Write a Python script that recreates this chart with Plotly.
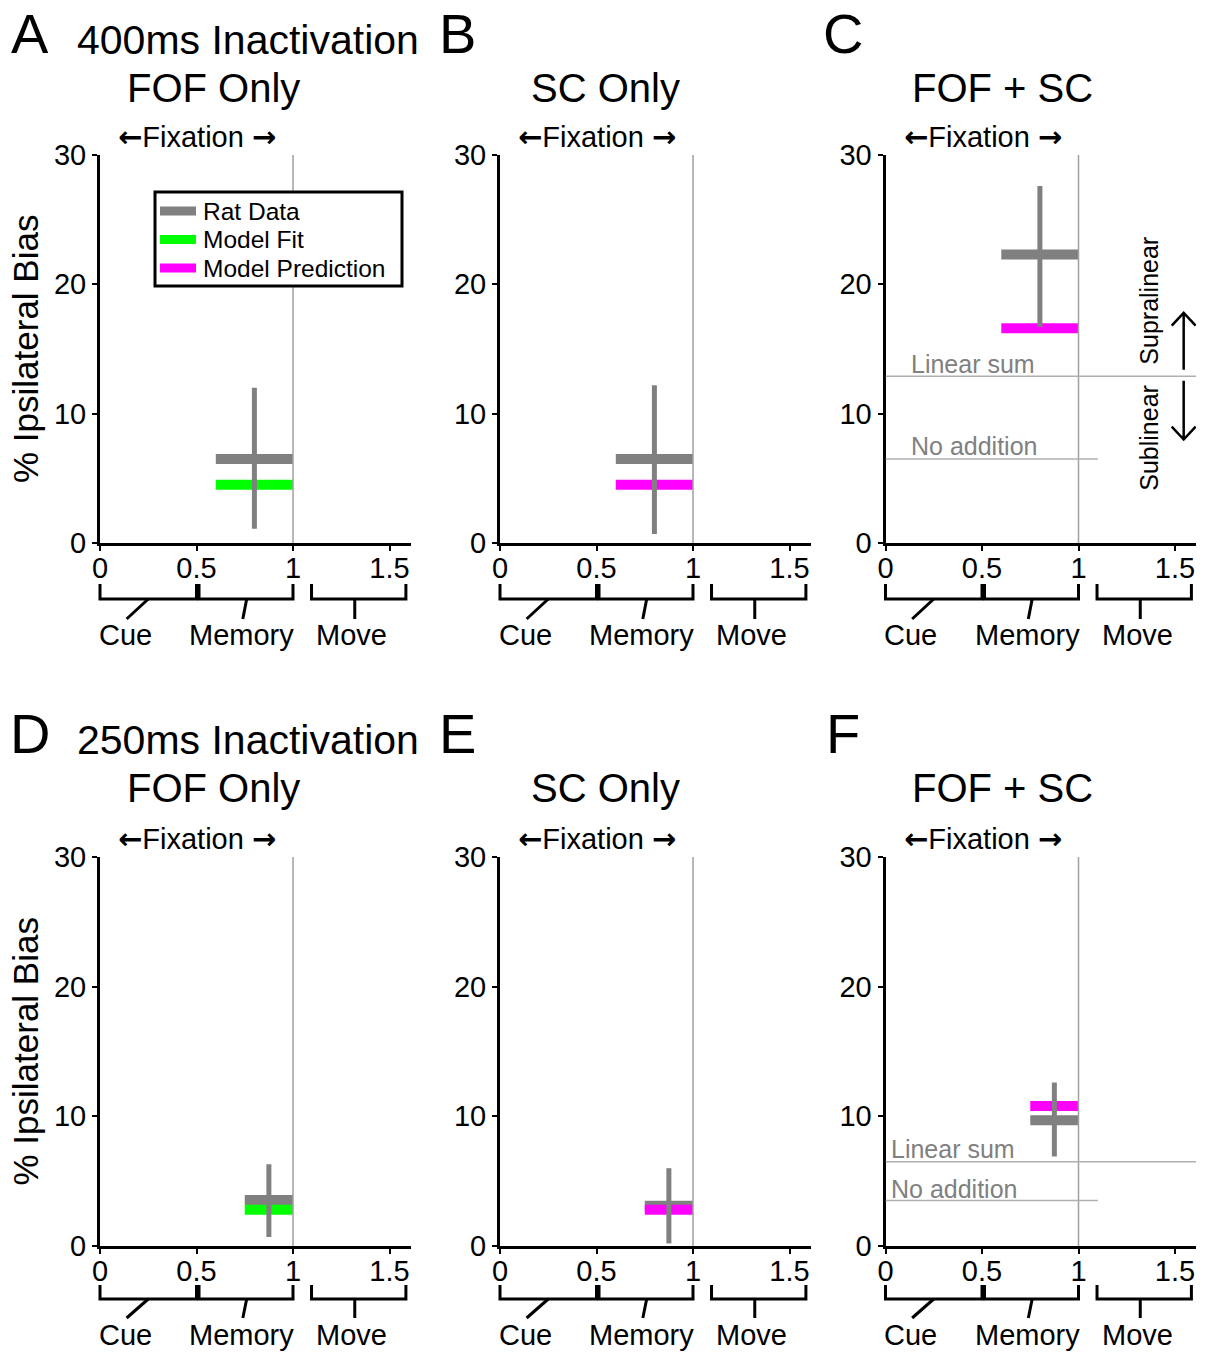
import plotly.graph_objects as go

# ---------------- data ----------------
panel_letters = ["A", "B", "C", "D", "E", "F"]
panel_titles = ["FOF Only", "SC Only", "FOF + SC", "FOF Only", "SC Only", "FOF + SC"]
row_titles = ["400ms Inactivation", "250ms Inactivation"]

rat_mean = [6.5, 6.5, 22.3, 3.55, 3.1, 9.7]
rat_lo = [1.1, 0.7, 16.7, 0.7, 0.2, 6.9]
rat_hi = [12.0, 12.2, 27.6, 6.3, 6.0, 12.6]
model_value = [4.5, 4.5, 16.6, 2.8, 2.8, 10.8]
model_kind = ["fit", "prediction", "prediction", "fit", "prediction", "prediction"]
window_start = [0.6, 0.6, 0.6, 0.75, 0.75, 0.75]
window_end = [1.0, 1.0, 1.0, 1.0, 1.0, 1.0]
window_mid = [0.8, 0.8, 0.8, 0.875, 0.875, 0.875]

# reference lines for combined panels (panel index -> value)
linear_sum = {2: 12.9, 5: 6.5}
no_addition = {2: 6.5, 5: 3.5}

x_tickvals = [0, 0.5, 1, 1.5]
x_ticktext = ["0", "0.5", "1", "1.5"]
y_tickvals = [0, 10, 20, 30]
y_ticktext = ["0", "10", "20", "30"]

epochs = ["Cue", "Memory", "Move"]
epoch_start = [0.0, 0.513, 1.096]
epoch_end = [0.5, 1.0, 1.585]
epoch_tick_top = [0.25, 0.76, 1.32]
epoch_tick_bottom = [0.138, 0.74, 1.32]
epoch_label_x = [0.13, 0.735, 1.305]

legend_names = ["Rat Data", "Model Fit", "Model Prediction"]

# ---------------- style / geometry ----------------
W, H = 1213, 1353
FONT = "Liberation Sans, Arial, sans-serif"
GRAY = "#808080"
COLORS = {"fit": "#00ff00", "prediction": "#ff00ff"}
legend_colors = [GRAY, COLORS["fit"], COLORS["prediction"]]
X_MAX = 1.61
PX_PER_X = 193.0
col_left_px = [100, 500, 885.5]
row_bottom_px = [543, 1246]
row_top_px = [155, 857]


def py(p):
    return 1 - p / H


def px(p):
    return p / W


fig = go.Figure()
shapes = []
annotations = []
ARROW = "<span style='font-family:DejaVu Sans;font-weight:bold'>%s</span>"

for i in range(6):
    r, c = divmod(i, 3)
    n = i + 1
    xs = "" if n == 1 else str(n)
    xa, ya = "x" + xs, "y" + xs
    left = col_left_px[c]
    fig.update_layout(**{
        "xaxis" + xs: dict(
            domain=[px(left), px(left + X_MAX * PX_PER_X)], range=[0, X_MAX],
            anchor=ya, showline=True, linecolor="black", linewidth=3,
            ticks="outside", ticklen=5, tickwidth=2, tickcolor="black",
            ticklabelstandoff=-8,
            tickvals=x_tickvals, ticktext=x_ticktext, showgrid=False, zeroline=False,
            tickfont=dict(family=FONT, size=29, color="black"), fixedrange=True),
        "yaxis" + xs: dict(
            domain=[py(row_bottom_px[r]), py(row_top_px[r])], range=[0, 30],
            anchor=xa, showline=True, linecolor="black", linewidth=3,
            ticks="outside", ticklen=5, tickwidth=2, tickcolor="black",
            tickvals=y_tickvals, ticktext=y_ticktext, showgrid=False, zeroline=False,
            tickfont=dict(family=FONT, size=29, color="black"), fixedrange=True),
    })

    kind = model_kind[i]
    # rat data bar
    fig.add_trace(go.Scatter(
        x=[window_start[i], window_end[i]], y=[rat_mean[i], rat_mean[i]],
        mode="lines", line=dict(color=GRAY, width=10), xaxis=xa, yaxis=ya,
        name="Rat Data", showlegend=False, hoverinfo="skip"))
    # model bar
    fig.add_trace(go.Scatter(
        x=[window_start[i], window_end[i]], y=[model_value[i], model_value[i]],
        mode="lines", line=dict(color=COLORS[kind], width=10), xaxis=xa, yaxis=ya,
        name="Model Fit" if kind == "fit" else "Model Prediction",
        showlegend=False, hoverinfo="skip"))
    # error bar
    fig.add_trace(go.Scatter(
        x=[window_mid[i], window_mid[i]], y=[rat_lo[i], rat_hi[i]],
        mode="lines", line=dict(color=GRAY, width=5), xaxis=xa, yaxis=ya,
        showlegend=False, hoverinfo="skip"))

    # vertical line at end of memory period
    shapes.append(dict(type="line", xref=xa, yref=ya, x0=window_end[i], x1=window_end[i],
                       y0=0, y1=30, line=dict(color="#a0a0a0", width=1.5), layer="above"))

    # reference lines
    if i in linear_sum:
        shapes.append(dict(type="line", xref=xa, yref=ya, x0=0, x1=X_MAX,
                           y0=linear_sum[i], y1=linear_sum[i],
                           line=dict(color="#b0b0b0", width=1.5)))
        shapes.append(dict(type="line", xref=xa, yref=ya, x0=0, x1=1.1,
                           y0=no_addition[i], y1=no_addition[i],
                           line=dict(color="#b0b0b0", width=1.5)))
        lx = 0.124 if r == 0 else 0.02
        annotations.append(dict(xref=xa, yref=ya, x=lx, y=linear_sum[i] + (0.95 if r == 0 else 1.0),
                                text="Linear sum", showarrow=False, xanchor="left", yanchor="middle",
                                font=dict(family=FONT, size=25, color=GRAY)))
        annotations.append(dict(xref=xa, yref=ya, x=lx, y=no_addition[i] + (1.0 if r == 0 else 0.9),
                                text="No addition", showarrow=False, xanchor="left", yanchor="middle",
                                font=dict(family=FONT, size=25, color=GRAY)))
        if r == 0:
            ax_x = 1.545
            ls = linear_sum[i]
            annotations.append(dict(xref=xa, yref=ya, x=1.368, y=ls + 5.8, text="Supralinear",
                                    textangle=-90, showarrow=False,
                                    font=dict(family=FONT, size=25, color="black")))
            annotations.append(dict(xref=xa, yref=ya, x=1.368, y=ls - 4.8, text="Sublinear",
                                    textangle=-90, showarrow=False,
                                    font=dict(family=FONT, size=25, color="black")))
            up_top, dn_bot = ls + 4.9, ls - 4.9
            shapes.append(dict(type="path", xref=xa, yref=ya,
                               path=f"M {ax_x},{ls + 0.5} L {ax_x},{up_top} "
                                    f"M {ax_x - 0.062},{up_top - 1.0} L {ax_x},{up_top} L {ax_x + 0.062},{up_top - 1.0}",
                               line=dict(color="black", width=2.5)))
            shapes.append(dict(type="path", xref=xa, yref=ya,
                               path=f"M {ax_x},{ls - 0.35} L {ax_x},{dn_bot} "
                                    f"M {ax_x - 0.062},{dn_bot + 1.0} L {ax_x},{dn_bot} L {ax_x + 0.062},{dn_bot + 1.0}",
                               line=dict(color="black", width=2.5)))

    # epoch brackets below the x axis
    xd = xa + " domain"
    base = row_bottom_px[r]
    off_top, off_h, off_tick, off_lab = (41, 56, 76, 92) if r == 0 else (39, 53, 72, 89)
    for k in range(3):
        x0, x1 = epoch_start[k] / X_MAX, epoch_end[k] / X_MAX
        yt, yh = py(base + off_top), py(base + off_h)
        shapes.append(dict(type="path", xref=xd, yref="paper",
                           path=f"M {x0},{yt} L {x0},{yh} L {x1},{yh} L {x1},{yt}",
                           line=dict(color="black", width=3)))
        shapes.append(dict(type="path", xref=xd, yref="paper",
                           path=f"M {epoch_tick_top[k] / X_MAX},{yh} L {epoch_tick_bottom[k] / X_MAX},{py(base + off_tick)}",
                           line=dict(color="black", width=3)))
        annotations.append(dict(xref=xd, yref="paper", x=epoch_label_x[k] / X_MAX, y=py(base + off_lab),
                                text=epochs[k], showarrow=False, xanchor="center", yanchor="middle",
                                font=dict(family=FONT, size=29, color="black")))

    # Fixation label
    annotations.append(dict(xref=xd, yref="paper", x=97 / (X_MAX * PX_PER_X), y=py(row_top_px[r] - 18),
                            text=(ARROW % "\u2190") + "Fixation " + (ARROW % "\u2192"),
                            showarrow=False, xanchor="center", yanchor="middle",
                            font=dict(family=FONT, size=29, color="black")))

    # panel letter and title
    letter_x = [30, 458, 843][c]
    top = 0 if r == 0 else 700
    annotations.append(dict(xref="paper", yref="paper", x=px(letter_x), y=py(top + 33),
                            text=panel_letters[i], showarrow=False, xanchor="center", yanchor="middle",
                            font=dict(family=FONT, size=56, color="black")))
    title_x = [213, 605, 1003][c]
    annotations.append(dict(xref="paper", yref="paper", x=px(title_x), y=py(top + 88),
                            text=panel_titles[i], showarrow=False, xanchor="center", yanchor="middle",
                            font=dict(family=FONT, size=40, color="black")))

for r in range(2):
    top = 0 if r == 0 else 700
    annotations.append(dict(xref="paper", yref="paper", x=px(248), y=py(top + 40),
                            text=row_titles[r], showarrow=False, xanchor="center", yanchor="middle",
                            font=dict(family=FONT, size=41, color="black")))
    annotations.append(dict(xref="paper", yref="paper", x=px(25), y=py((row_bottom_px[r] + row_top_px[r]) / 2),
                            text="% Ipsilateral Bias", textangle=-90, showarrow=False,
                            xanchor="center", yanchor="middle",
                            font=dict(family=FONT, size=35, color="black")))

# legend box (panel A)
lg_l, lg_t, lg_r, lg_b = 155, 192, 402, 286
shapes.append(dict(type="rect", xref="paper", yref="paper", x0=px(lg_l), x1=px(lg_r),
                   y0=py(lg_b), y1=py(lg_t), fillcolor="white",
                   line=dict(color="black", width=3), layer="above"))
for k, name in enumerate(legend_names):
    yk = lg_t + 19 + 28.5 * k
    shapes.append(dict(type="line", xref="paper", yref="paper", x0=px(160), x1=px(196),
                       y0=py(yk), y1=py(yk), line=dict(color=legend_colors[k], width=9), layer="above"))
    annotations.append(dict(xref="paper", yref="paper", x=px(201), y=py(yk), text=name,
                            showarrow=False, xanchor="left", yanchor="middle",
                            font=dict(family=FONT, size=24.5, color="black")))

fig.update_layout(
    width=W, height=H, margin=dict(l=0, r=0, t=0, b=0, autoexpand=False),
    paper_bgcolor="white", plot_bgcolor="white",
    shapes=shapes, annotations=annotations, showlegend=False,
)

fig.write_html("out.html", config={"displayModeBar": False},
               post_script="document.body.style.margin='0';document.body.style.overflow='hidden';")
